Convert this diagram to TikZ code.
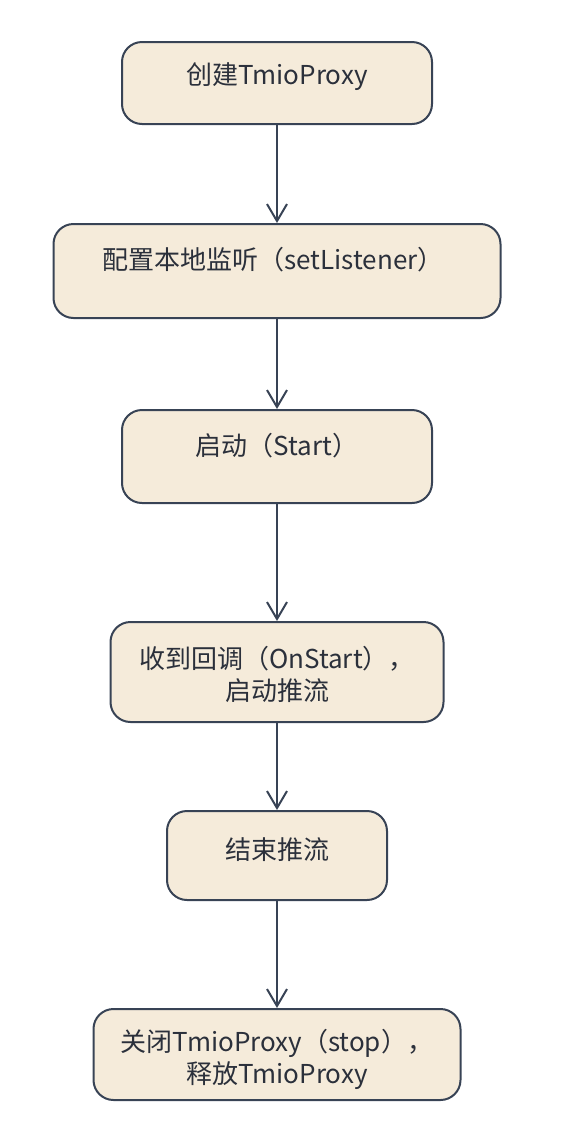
\documentclass[tikz,border=0pt]{standalone}
\usepackage{fontspec}
\setmainfont{Noto Sans CJK SC}
\usepackage{xcolor}
\usetikzlibrary{arrows.meta,positioning,calc}

\definecolor{boxfill}{HTML}{F5EBDA}
\definecolor{boxline}{HTML}{384355}
\definecolor{txtgray}{HTML}{2B303B}

\begin{document}
\begin{tikzpicture}[
  x=1pt, y=1pt,
  node distance=100pt,
  box/.style={rectangle, draw=boxline, fill=boxfill, line width=2pt,
              rounded corners=20pt, inner sep=0pt},
  txt/.style={font=\fontsize{26pt}{32pt}\selectfont, text=txtgray,
              align=center, inner sep=0pt},
  arr/.style={-{Straight Barb[length=17pt,width=20pt,line width=2pt]},
              draw=boxline, line width=2pt}
]
\useasboundingbox (0,0) rectangle (566,-1144);

\node[box, minimum width=310pt, minimum height=82pt] (create) at (277,-83) {};
\node[box, minimum width=447pt, minimum height=94pt,
      below=98pt of create] (listen) {};
\node[box, minimum width=310pt, minimum height=93pt,
      below=90pt of listen]  (start)  {};
\node[box, minimum width=333pt, minimum height=100pt,
      below=117pt of start]  (onstart) {};
\node[box, minimum width=220pt, minimum height=89pt,
      below=87pt of onstart] (endpush) {};
\node[box, minimum width=367pt, minimum height=91pt,
      below=107pt of endpush] (release) {};

% texts
\node[txt] (createtxt)  at ($(create)+(0,6)$)   {创建TmioProxy};
\node[txt] (listentxt)  at ($(listen)+(-4,11)$) {配置本地监听（setListener）};
\node[txt] (starttxt)   at ($(start)+(0,11)$)   {启动（Start）};
\node[txt] (onstarttxt) at ($(onstart)+(0,-2)$) {收到回调（OnStart），\\启动推流};
\node[txt] (endpushtxt) at ($(endpush)+(0,6)$)  {结束推流};
\node[txt] (releasetxt) at ($(release)+(0,-5)$) {关闭TmioProxy（stop），\\释放TmioProxy};

\draw[arr] (create)  -- (listen);
\draw[arr] (listen)  -- (start);
\draw[arr] (start)   -- (onstart);
\draw[arr] (onstart) -- (endpush);
\draw[arr] (endpush) -- (release);
\end{tikzpicture}
\end{document}
